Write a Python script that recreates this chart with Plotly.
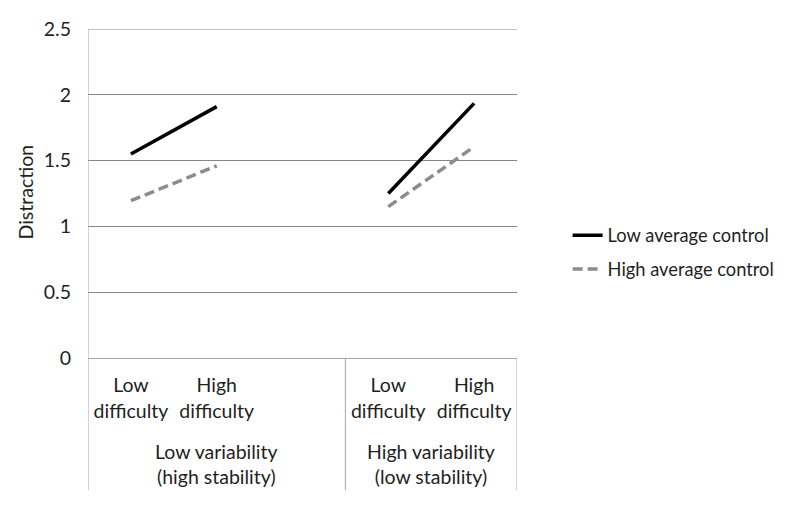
import plotly.graph_objects as go

# ---- data ----
positions = [1, 2, 3, 4, 5]
difficulty_labels = ["Low<br>difficulty", "High<br>difficulty", "Low<br>difficulty", "High<br>difficulty"]
difficulty_ticks = [1, 2, 4, 5]
group_labels = ["Low variability<br>(high stability)", "High variability<br>(low stability)"]
group_centers = [2, 4.5]
group_dividers = [0.5, 3.5, 5.5]
low_avg_control = [1.55, 1.91, None, 1.25, 1.935]
high_avg_control = [1.195, 1.46, None, 1.15, 1.605]
y_ticks = [0, 0.5, 1, 1.5, 2, 2.5]
y_ticktext = ["0", "0.5", "1", "1.5", "2", "2.5"]

FONT = "Lato"
FS = 19.5
TXT = "#1f1f1f"
GRID = "#878787"

fig = go.Figure()
fig.add_trace(go.Scatter(x=positions, y=low_avg_control, mode="lines",
                         name="Low average control", legendgroup="a",
                         line=dict(color="black", width=3.5), connectgaps=False))
fig.add_trace(go.Scatter(x=positions, y=high_avg_control, mode="lines",
                         name="High average control", legendgroup="b",
                         line=dict(color="#8c8c8c", width=3.5, dash="10px,5px"), connectgaps=False))

shapes = []
bottom = -(490 - 358) / 329
for i, xd in enumerate(group_dividers):
    shapes.append(dict(type="line", xref="x", yref="paper", x0=xd, x1=xd,
                       y0=(1 if i == 0 else 0), y1=bottom,
                       line=dict(color="#a6a6a6", width=1)))
# top gridline at the range end
shapes.append(dict(type="line", xref="paper", yref="y", x0=0, x1=1, y0=y_ticks[-1], y1=y_ticks[-1],
                   line=dict(color=GRID, width=1), layer="below"))

annotations = []
for lab, cx in zip(group_labels, group_centers):
    annotations.append(dict(text=lab, x=cx, xref="x", y=(358 - 464) / 329, yref="paper",
                            showarrow=False, font=dict(family=FONT, size=FS, color=TXT),
                            xanchor="center", yanchor="middle"))
annotations.append(dict(text="Distraction", x=(25 - 88) / 429, xref="paper", y=(358 - 192.5) / 329,
                        yref="paper", showarrow=False, textangle=-90,
                        font=dict(family=FONT, size=FS, color=TXT),
                        xanchor="center", yanchor="middle"))

# page body has an 8px margin: shrink the figure so the plot area lands at 88..517 x 29..358
fig.update_layout(
    width=783, height=497,
    margin=dict(l=80, r=274, t=21, b=147, autoexpand=False),
    paper_bgcolor="white", plot_bgcolor="white",
    font=dict(family=FONT, size=FS, color=TXT),
    showlegend=True,
    legend=dict(x=1.118, xanchor="left", y=0.321, yanchor="middle",
                font=dict(family=FONT, size=18.3, color=TXT),
                tracegroupgap=7, traceorder="grouped",
                bgcolor="rgba(0,0,0,0)"),
    shapes=shapes,
    annotations=annotations,
    xaxis=dict(range=[0.5, 5.5], tickmode="array", tickvals=difficulty_ticks,
               ticktext=difficulty_labels, showgrid=False, zeroline=False,
               showline=True, linecolor="#a6a6a6", linewidth=1,
               ticks="", ticklabelstandoff=10,
               tickfont=dict(family=FONT, size=FS, color=TXT)),
    yaxis=dict(range=[0, 2.5], tickmode="array", tickvals=y_ticks, ticktext=y_ticktext,
               showgrid=True, gridcolor=GRID, gridwidth=1, zeroline=False,
               showline=False, ticks="", ticklabelstandoff=16,
               tickfont=dict(family=FONT, size=FS, color=TXT)),
)

fig.write_html("out.html")
